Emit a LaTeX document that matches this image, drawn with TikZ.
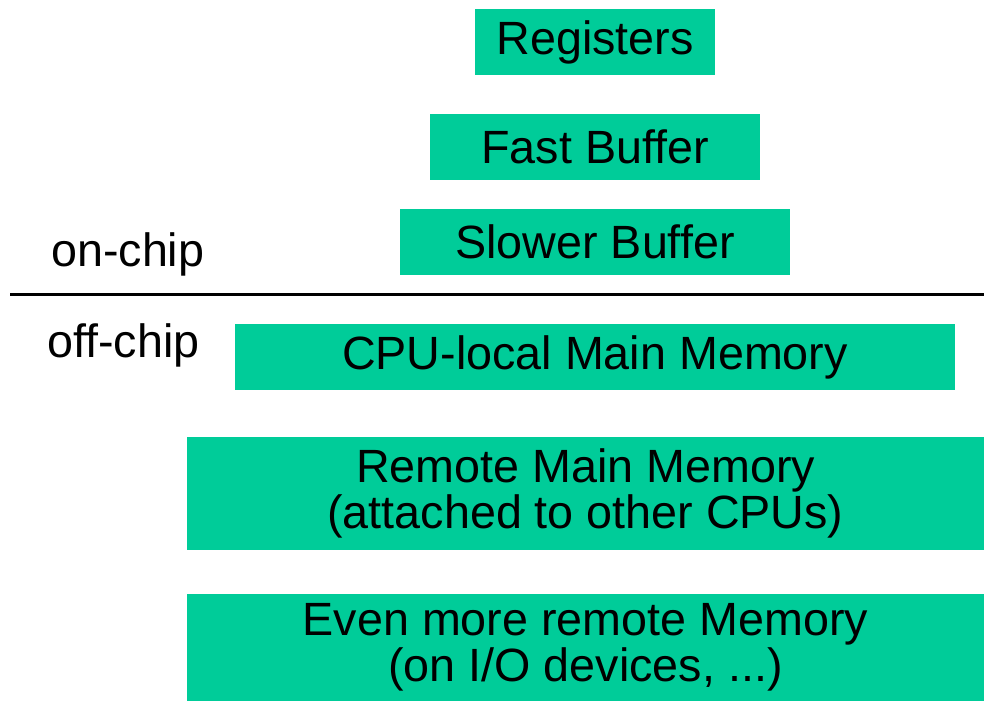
\documentclass[tikz,border=0pt]{standalone}
\usepackage{fontspec}
\setmainfont{Liberation Sans}
\usepackage{xcolor}
\usepackage{tikz}
\usetikzlibrary{positioning}
\definecolor{memgreen}{HTML}{00CC99}
\definecolor{memdark}{HTML}{000000}
\newcommand{\memfont}{\fontsize{35}{34.5}\selectfont}
\tikzset{
  level/.style={fill=memgreen,draw=none,inner sep=0pt,align=center,font=\memfont,text=memdark,minimum height=49.5pt},
  wide/.style={level,minimum width=597.75pt},
  side/.style={font=\memfont,anchor=base west,inner sep=0pt},
  chipline/.style={draw=memdark,line width=2.25pt},
}
\begin{document}
\begin{tikzpicture}[x=0.75pt,y=-0.75pt]
\useasboundingbox (0,0) rectangle (984,701);
% on-chip levels
\node[level,minimum width=180pt] (reg) at (595,42) {Registers};
\node[level,minimum width=247.5pt] (fast) at (595,147) {Fast Buffer};
\node[level,minimum width=292.5pt] (slow) at (595,242) {Slower Buffer};
% chip boundary
\coordinate (lineL) at (10,294);
\coordinate (lineR) at (984,294);
\draw[chipline] (lineL) -- (lineR);
\node[side] (onchip) at (51,266) {on-chip};
\node[side] (offchip) at (47,357) {off-chip};
% off-chip levels
\node[level,minimum width=540pt] (local) at (595,357) {CPU-local Main Memory};
\node[wide,minimum height=84.75pt] (remote) at (585.5,493.5) {Remote Main Memory\\(attached to other CPUs)};
\node[wide,minimum height=80.25pt] (io) at (585.5,647.5) {Even more remote Memory\\(on I/O devices, ...)};
\end{tikzpicture}
\end{document}
